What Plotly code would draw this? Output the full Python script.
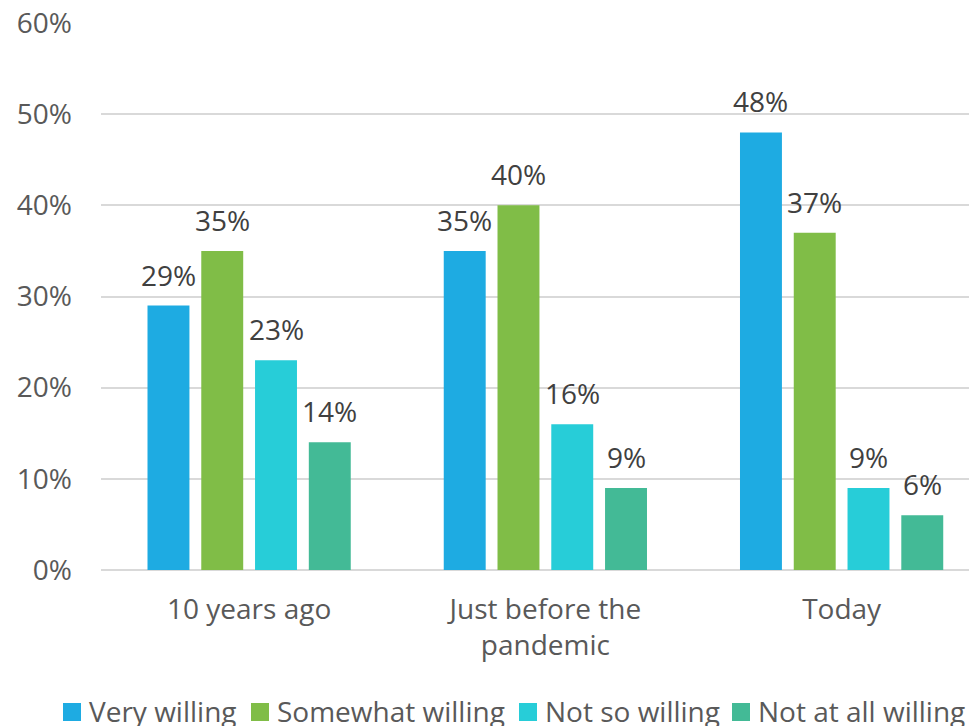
import plotly.graph_objects as go

# Survey data: willingness by period
periods = ["10 years ago", "Just before the<br>pandemic", "Today"]
series_names = ["Very willing", "Somewhat willing", "Not so willing", "Not at all willing"]
very_willing = [0.29, 0.35, 0.48]
somewhat_willing = [0.35, 0.40, 0.37]
not_so_willing = [0.23, 0.16, 0.09]
not_at_all_willing = [0.14, 0.09, 0.06]
y_ticks = [0, 0.1, 0.2, 0.3, 0.4, 0.5, 0.6]

series_values = [very_willing, somewhat_willing, not_so_willing, not_at_all_willing]
colors = ["#1EABE2", "#80BD47", "#27CDD8", "#43BA96"]

FONT = "Open Sans"
FS = 28
W, H = 969, 726
margin = dict(l=101, r=0, t=23, b=156)
x_range = [-0.5, 2.43]
bargap = 0.274
bargroupgap = 0.22

fig = go.Figure()
x_idx = list(range(len(periods)))
for name, vals, col in zip(series_names, series_values, colors):
    fig.add_trace(go.Bar(
        x=x_idx, y=vals, name=name, marker=dict(color=col, line=dict(width=0)),
        showlegend=False,
    ))

# value labels above each bar, offset to the bar's slot within its group
plot_w = W - margin["l"] - margin["r"]
plot_h = H - margin["t"] - margin["b"]
cat_px = plot_w / (x_range[1] - x_range[0])
slot_px = cat_px * (1 - bargap) / len(series_names)
for i, vals in enumerate(series_values):
    offset = (i - (len(series_names) - 1) / 2) * slot_px
    for j, v in enumerate(vals):
        fig.add_annotation(
            x=j, y=v, xref="x", yref="y", text=f"{round(v * 100)}%",
            showarrow=False, xshift=offset, yanchor="bottom", yshift=10,
            font=dict(family=FONT, size=FS, color="#404040"),
        )

# legend drawn as squares + labels along the bottom
legend_y = 711
legend_x = [63, 251, 519, 732]
sq = 18
for name, col, lx in zip(series_names, colors, legend_x):
    fig.add_shape(type="rect", xref="paper", yref="paper",
                  x0=(lx - margin["l"]) / plot_w, x1=(lx + sq - margin["l"]) / plot_w,
                  y0=(H - margin["b"] - (legend_y + 1 + sq / 2)) / plot_h,
                  y1=(H - margin["b"] - (legend_y + 1 - sq / 2)) / plot_h,
                  fillcolor=col, line=dict(width=0))
    fig.add_annotation(xref="paper", yref="paper",
                       x=(lx + sq + 6 - margin["l"]) / plot_w,
                       y=(H - margin["b"] - legend_y) / plot_h,
                       xanchor="left", yanchor="middle", showarrow=False, text=name,
                       font=dict(family=FONT, size=FS, color="#595959"))

fig.update_layout(
    width=W, height=H, margin=margin,
    paper_bgcolor="white", plot_bgcolor="white",
    barmode="group", bargap=bargap, bargroupgap=bargroupgap,
    font=dict(family=FONT, size=FS, color="#595959"),
    showlegend=False,
    xaxis=dict(tickvals=x_idx, ticktext=periods, range=x_range, showgrid=False,
               zeroline=False, showline=False, ticks="", ticklabelstandoff=20,
               tickfont=dict(family=FONT, size=FS, color="#595959")),
    yaxis=dict(range=[0, 0.6], tickvals=y_ticks, tickformat=".0%",
               showgrid=True, gridcolor="#D9D9D9", gridwidth=1.5,
               zeroline=True, zerolinecolor="#D9D9D9", zerolinewidth=1.5,
               showline=False, ticks="", ticklabelstandoff=28,
               tickfont=dict(family=FONT, size=FS, color="#595959")),
)

fig.write_html("out.html")
